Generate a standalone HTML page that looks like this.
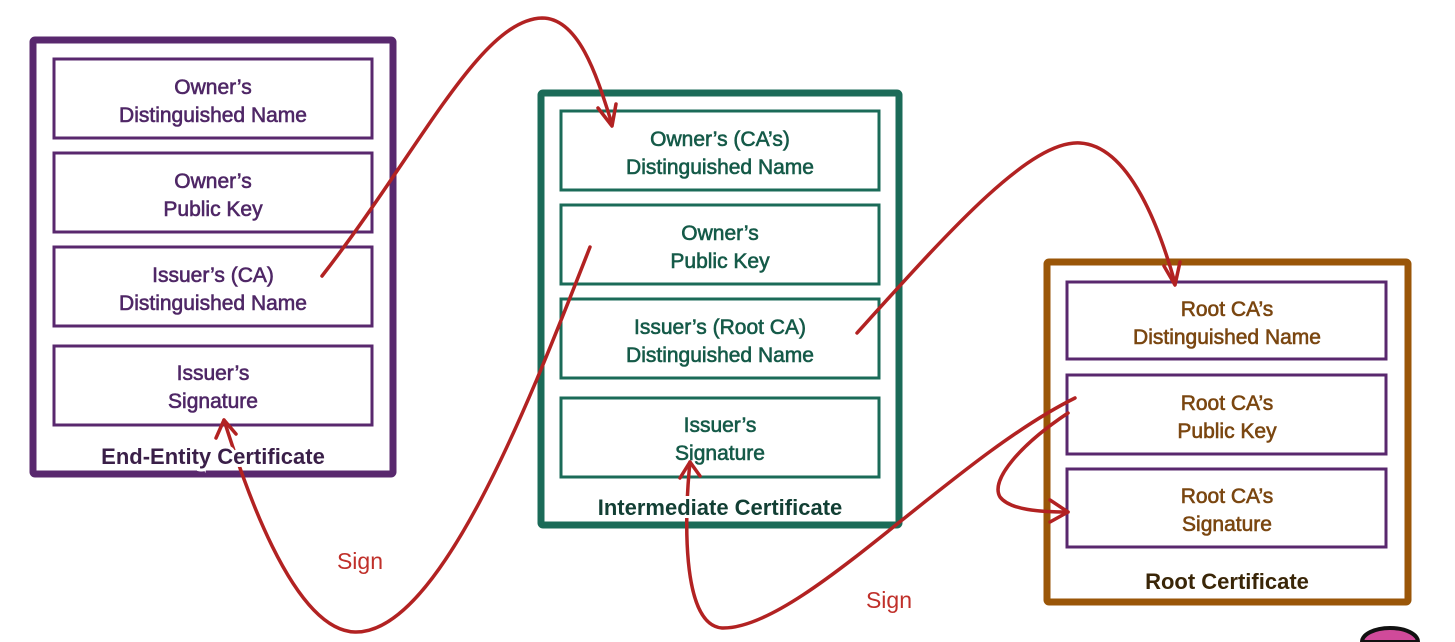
<!DOCTYPE html>
<html><head><meta charset="utf-8"><style>
html,body{margin:0;padding:0;background:#fff;width:1455px;height:642px;overflow:hidden;}
svg{display:block;}
text{font-family:"Liberation Sans",sans-serif;text-anchor:middle;}
.t{font-size:21px;stroke-width:0.6px;}
.h{font-size:22px;font-weight:bold;paint-order:stroke;stroke:#fff;stroke-width:6px;}
</style></head><body>
<svg width="1455" height="642" viewBox="0 0 1455 642" xmlns="http://www.w3.org/2000/svg">
<g fill="none" stroke="#59286e">
<rect x="33" y="40" width="360" height="434" stroke-width="7" rx="2"/>
<g stroke-width="3">
<rect x="54" y="59" width="318" height="79"/>
<rect x="54" y="153" width="318" height="79"/>
<rect x="54" y="247" width="318" height="79"/>
<rect x="54" y="346" width="318" height="79"/>
</g></g>
<g fill="none" stroke="#1b6b58">
<rect x="541" y="93" width="358" height="432" stroke-width="7" rx="2"/>
<g stroke-width="3">
<rect x="561" y="111" width="318" height="79"/>
<rect x="561" y="205" width="318" height="79"/>
<rect x="561" y="299" width="318" height="79"/>
<rect x="561" y="398" width="318" height="79"/>
</g></g>
<rect x="1047" y="262" width="361" height="340" fill="none" stroke="#9a5608" stroke-width="7" rx="2"/>
<g fill="none" stroke="#59286e" stroke-width="3">
<rect x="1067" y="282" width="319" height="77"/>
<rect x="1067" y="375" width="319" height="79"/>
<rect x="1067" y="469" width="319" height="78"/>
</g>
<g fill="none" stroke="#b22222" stroke-width="3.5" stroke-linecap="round" stroke-linejoin="round">
<path d="M322,276 C420,150 480,20 542,18 C580,18 598,80 612,124"/>
<path d="M598,108 L612,126 L616,104"/>
<path d="M590,247 C530,400 440,634 355,632 C290,630 240,470 224,420"/>
<path d="M216,438 L224,420 L236,434"/>
<path d="M857,333 C950,230 1030,140 1080,143 C1130,146 1160,230 1175,283"/>
<path d="M1164,266 L1175,285 L1180,262"/>
<path d="M1075,398 C950,460 800,630 722,628 C680,625 685,510 690,462"/>
<path d="M680,478 L690,462 L700,476"/>
<path d="M1068,413 C1020,445 990,480 1000,497 C1010,510 1040,512 1068,512"/>
<path d="M1050,500 L1068,512 L1050,522"/>
</g>
<g class="t" fill="#4f2766" stroke="#4f2766">
<text x="213" y="94">Owner’s</text><text x="213" y="122">Distinguished Name</text>
<text x="213" y="188">Owner’s</text><text x="213" y="216">Public Key</text>
<text x="213" y="282">Issuer’s (CA)</text><text x="213" y="310">Distinguished Name</text>
<text x="213" y="380">Issuer’s</text><text x="213" y="408">Signature</text>
</g>
<text class="h" x="213" y="464" fill="#3a1f48">End-Entity Certificate</text>
<g class="t" fill="#155a48" stroke="#155a48">
<text x="720" y="146">Owner’s (CA’s)</text><text x="720" y="174">Distinguished Name</text>
<text x="720" y="240">Owner’s</text><text x="720" y="268">Public Key</text>
<text x="720" y="334">Issuer’s (Root CA)</text><text x="720" y="362">Distinguished Name</text>
<text x="720" y="432">Issuer’s</text><text x="720" y="460">Signature</text>
</g>
<text class="h" x="720" y="515" fill="#123f34">Intermediate Certificate</text>
<g class="t" fill="#7a4610" stroke="#7a4610">
<text x="1227" y="316">Root CA’s</text><text x="1227" y="344">Distinguished Name</text>
<text x="1227" y="410">Root CA’s</text><text x="1227" y="438">Public Key</text>
<text x="1227" y="503">Root CA’s</text><text x="1227" y="531">Signature</text>
</g>
<text class="h" x="1227" y="589" fill="#3a2608">Root Certificate</text>
<text x="360" y="569" font-size="23" fill="#c0302a">Sign</text>
<text x="889" y="608" font-size="23" fill="#c0302a">Sign</text>
<path d="M1362,642 A28,14 0 0 1 1418,642 Z" fill="#d04a9a" stroke="#111" stroke-width="4"/>
</svg>
</body></html>
